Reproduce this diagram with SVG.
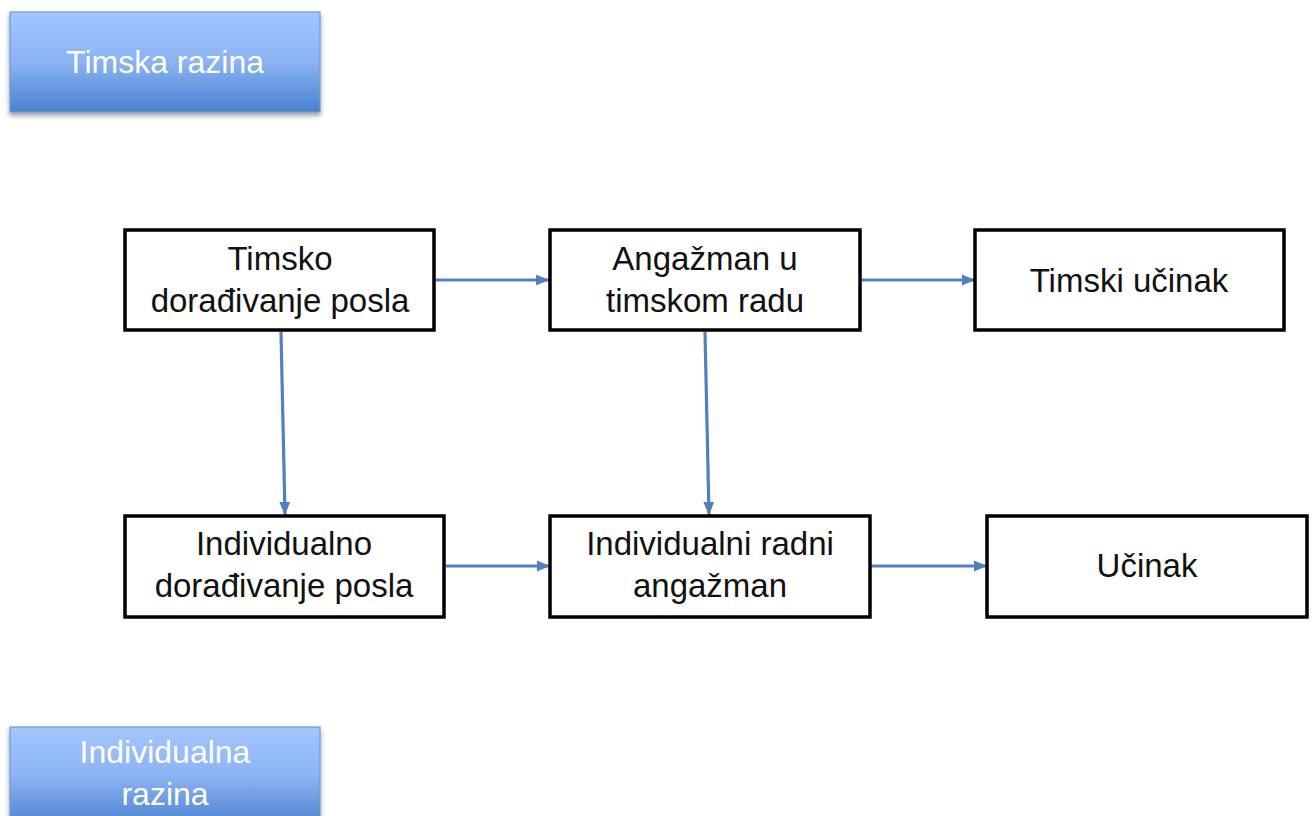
<svg xmlns="http://www.w3.org/2000/svg" width="1316" height="816" viewBox="0 0 1316 816">
<style>
.box{fill:#fff;stroke:#000;stroke-width:3.5}
.t{font-family:"Liberation Sans",Arial,sans-serif;font-size:33px;fill:#111;text-anchor:middle}
.lt{font-family:"Liberation Sans",Arial,sans-serif;font-size:32px;fill:#fff;text-anchor:middle}
.lvl{fill:url(#bg);stroke:#6f9bd8;stroke-width:1.2}
.c{stroke:#4f81bd;stroke-width:3.2;fill:none;marker-end:url(#ah)}
</style>
<defs>
<linearGradient id="bg" x1="0" y1="0" x2="0" y2="1">
<stop offset="0" stop-color="#a3c6ff"/>
<stop offset="0.5" stop-color="#8ab3f3"/>
<stop offset="1" stop-color="#4a80cf"/>
</linearGradient>
<filter id="sh" x="-10%" y="-10%" width="120%" height="130%">
<feGaussianBlur in="SourceAlpha" stdDeviation="2.5"/>
<feOffset dx="0" dy="3" result="b"/>
<feComponentTransfer><feFuncA type="linear" slope="0.4"/></feComponentTransfer>
<feMerge><feMergeNode/><feMergeNode in="SourceGraphic"/></feMerge>
</filter>
<marker id="ah" markerUnits="userSpaceOnUse" markerWidth="16" markerHeight="14" refX="13" refY="7" orient="auto">
<path d="M0,1.5 L13,7 L0,12.5 Z" fill="#4f81bd"/>
</marker>
</defs>
<rect width="1316" height="816" fill="#fff"/>

<g id="timska-razina">
<rect class="lvl" x="10" y="12" width="310" height="100" filter="url(#sh)"/>
<text class="lt" x="165" y="73">Timska razina</text>
</g>
<g id="individualna-razina">
<rect class="lvl" x="10" y="727" width="310" height="100" filter="url(#sh)"/>
<text class="lt" x="165" y="763">Individualna</text>
<text class="lt" x="165" y="805">razina</text>
</g>

<g id="connectors">
<line class="c" x1="436" y1="280" x2="549" y2="280"/>
<line class="c" x1="862" y1="280" x2="975" y2="280"/>
<line class="c" x1="446" y1="566" x2="550" y2="566"/>
<line class="c" x1="871" y1="566" x2="987" y2="566"/>
<line class="c" x1="281" y1="332" x2="285" y2="515"/>
<line class="c" x1="705" y1="332" x2="709" y2="515"/>
</g>

<g id="timsko-doradjivanje">
<rect class="box" x="125" y="230" width="309" height="100"/>
<text class="t" x="280" y="270">Timsko</text>
<text class="t" x="280" y="312">dorađivanje posla</text>
</g>
<g id="angazman-timski">
<rect class="box" x="550" y="230" width="310" height="100"/>
<text class="t" x="705" y="270">Angažman u</text>
<text class="t" x="705" y="312">timskom radu</text>
</g>
<g id="timski-ucinak">
<rect class="box" x="975" y="230" width="309" height="100"/>
<text class="t" x="1129" y="292">Timski učinak</text>
</g>
<g id="individualno-doradjivanje">
<rect class="box" x="125" y="516" width="319" height="101"/>
<text class="t" x="284" y="555">Individualno</text>
<text class="t" x="284" y="597">dorađivanje posla</text>
</g>
<g id="individualni-angazman">
<rect class="box" x="550" y="516" width="320" height="101"/>
<text class="t" x="710" y="555">Individualni radni</text>
<text class="t" x="710" y="597">angažman</text>
</g>
<g id="ucinak">
<rect class="box" x="987" y="516" width="320" height="101"/>
<text class="t" x="1147" y="577">Učinak</text>
</g>
</svg>
